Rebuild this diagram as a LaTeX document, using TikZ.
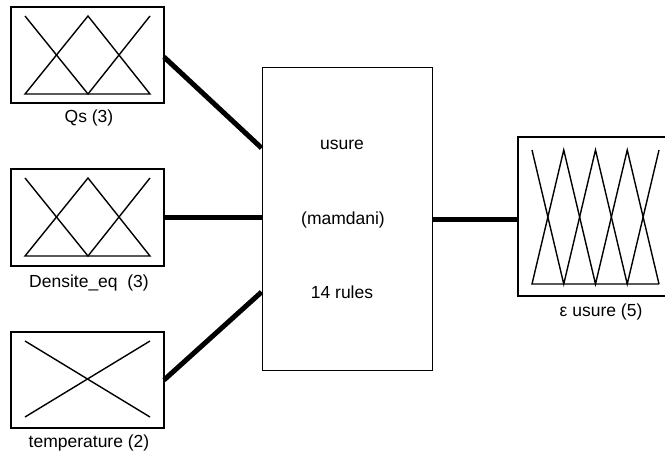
\documentclass[tikz,border=0pt]{standalone}
\usepackage{fontspec}
\setmainfont{Liberation Sans}
\begin{document}
\begin{tikzpicture}[x=1pt,y=-1pt,
  mfbox/.style={draw,line width=2.2pt,inner sep=0pt},
  mfline/.style={line width=1.4pt,line join=miter},
  conn/.style={line width=5pt},
  lbl/.style={font=\fontsize{17.5}{20}\selectfont,inner sep=0pt},
  sysbox/.style={draw,line width=0.9pt,inner sep=0pt}]
\useasboundingbox (0,0) rectangle (665,456);
% input boxes
\node[mfbox,minimum width=153pt,minimum height=96pt] (qs) at (87.5,55) {};
\node[mfbox,minimum width=153pt,minimum height=97pt] (de) at (87.5,217.5) {};
\node[mfbox,minimum width=153pt,minimum height=96pt] (te) at (87.5,380) {};
\node[lbl] (qsl) at (89,118) {Qs (3)};
\node[lbl] (del) at (89,283) {Densite\_eq \ (3)};
\node[lbl] (tel) at (89,443) {temperature (2)};
% membership functions
\draw[mfline] (25,16) -- (88,94) -- (150,16);
\draw[mfline] (25,94) -- (88,16) -- (150,94) -- cycle;
\draw[mfline] (25,178) -- (88,256) -- (150,178);
\draw[mfline] (25,256) -- (88,178) -- (150,256) -- cycle;
\draw[mfline] (25,341) -- (150,417);
\draw[mfline] (25,417) -- (150,341);
% system box
\node[sysbox,minimum width=170pt,minimum height=303pt] (sys) at (347,218.5) {};
\node[lbl] (s1) at (342,145) {usure};
\node[lbl] (s2) at (343,220) {(mamdani)};
\node[lbl] (s3) at (342,292) {14 rules};
% output box
\coordinate (otl) at (518,137);
\coordinate (otr) at (668,137);
\coordinate (obl) at (518,296);
\coordinate (obr) at (668,296);
\draw[line width=2.2pt] (otr) -- (otl) -- (obl) -- (obr);
\coordinate (oin) at (518,219);
\draw[mfline] (532,150) -- (563.75,284) -- (595.5,150) -- (627.25,284) -- (659,150);
\draw[mfline] (659,284) -- (532,284) -- (563.75,150) -- (595.5,284) -- (627.25,150) -- (659,284);
\node[lbl] (oul) at (601,312) {ε usure (5)};
% connectors
\coordinate (qsout) at (164,57);
\coordinate (teout) at (164,380);
\draw[conn] (qsout) -- (sys.west |- 0,148);
\draw[conn] (de.east) -- (sys.west |- de.east);
\draw[conn] (teout) -- (sys.west |- 0,292);
\draw[conn] (sys.east |- oin) -- (oin);
\end{tikzpicture}
\end{document}
